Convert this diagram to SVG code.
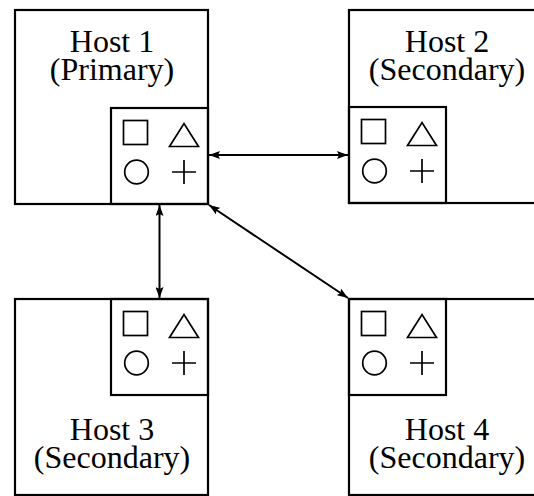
<svg xmlns="http://www.w3.org/2000/svg" width="534" height="496" viewBox="0 0 534 496">
  <style>
    .box { fill: none; stroke: #000; stroke-width: 2.2; }
    .sym { fill: none; stroke: #000; stroke-width: 1.7; }
    .lbl { font-family: "Liberation Serif", "DejaVu Serif", serif; font-size: 32px; fill: #000; text-anchor: middle; }
    .link { stroke: #000; stroke-width: 2; fill: none; marker-start: url(#head); marker-end: url(#head); }
  </style>
  <defs>
    <marker id="head" viewBox="0 0 11 8" refX="11" refY="4" markerWidth="11" markerHeight="8" markerUnits="userSpaceOnUse" orient="auto-start-reverse">
      <path d="M0,0 L11,4 L0,8 L2,4 Z" fill="#000"/>
    </marker>
    <!-- four-symbol panel, origin at its top-left corner -->
    <g id="panel">
      <rect class="box" x="0" y="0" width="97" height="96"/>
      <rect class="sym" x="12.5" y="12.5" width="24" height="24"/>
      <polygon class="sym" points="58.5,38.5 87.5,38.5 73,15.5"/>
      <circle class="sym" cx="25.5" cy="64" r="11.8"/>
      <path class="sym" d="M61,64 H85 M73,52 V76"/>
    </g>
  </defs>

  <g id="host1">
    <rect class="box" x="15" y="10" width="193" height="194"/>
    <use href="#panel" x="111" y="108"/>
    <text class="lbl" x="112" y="52">Host 1</text>
    <text class="lbl" x="112" y="80">(Primary)</text>
  </g>

  <g id="host2">
    <rect class="box" x="349" y="10" width="194" height="193"/>
    <use href="#panel" x="349" y="107"/>
    <text class="lbl" x="447" y="52">Host 2</text>
    <text class="lbl" x="447" y="80">(Secondary)</text>
  </g>

  <g id="host3">
    <rect class="box" x="15" y="299" width="193" height="196"/>
    <use href="#panel" x="111" y="299"/>
    <text class="lbl" x="112" y="440">Host 3</text>
    <text class="lbl" x="112" y="468">(Secondary)</text>
  </g>

  <g id="host4">
    <rect class="box" x="349" y="299" width="194" height="196"/>
    <use href="#panel" x="349" y="299"/>
    <text class="lbl" x="447" y="440">Host 4</text>
    <text class="lbl" x="447" y="468">(Secondary)</text>
  </g>

  <g id="connectors">
    <line class="link" x1="209" y1="155" x2="348" y2="155"/>
    <line class="link" x1="159.5" y1="205" x2="159.5" y2="298"/>
    <line class="link" x1="209" y1="205" x2="348" y2="298"/>
  </g>
</svg>
